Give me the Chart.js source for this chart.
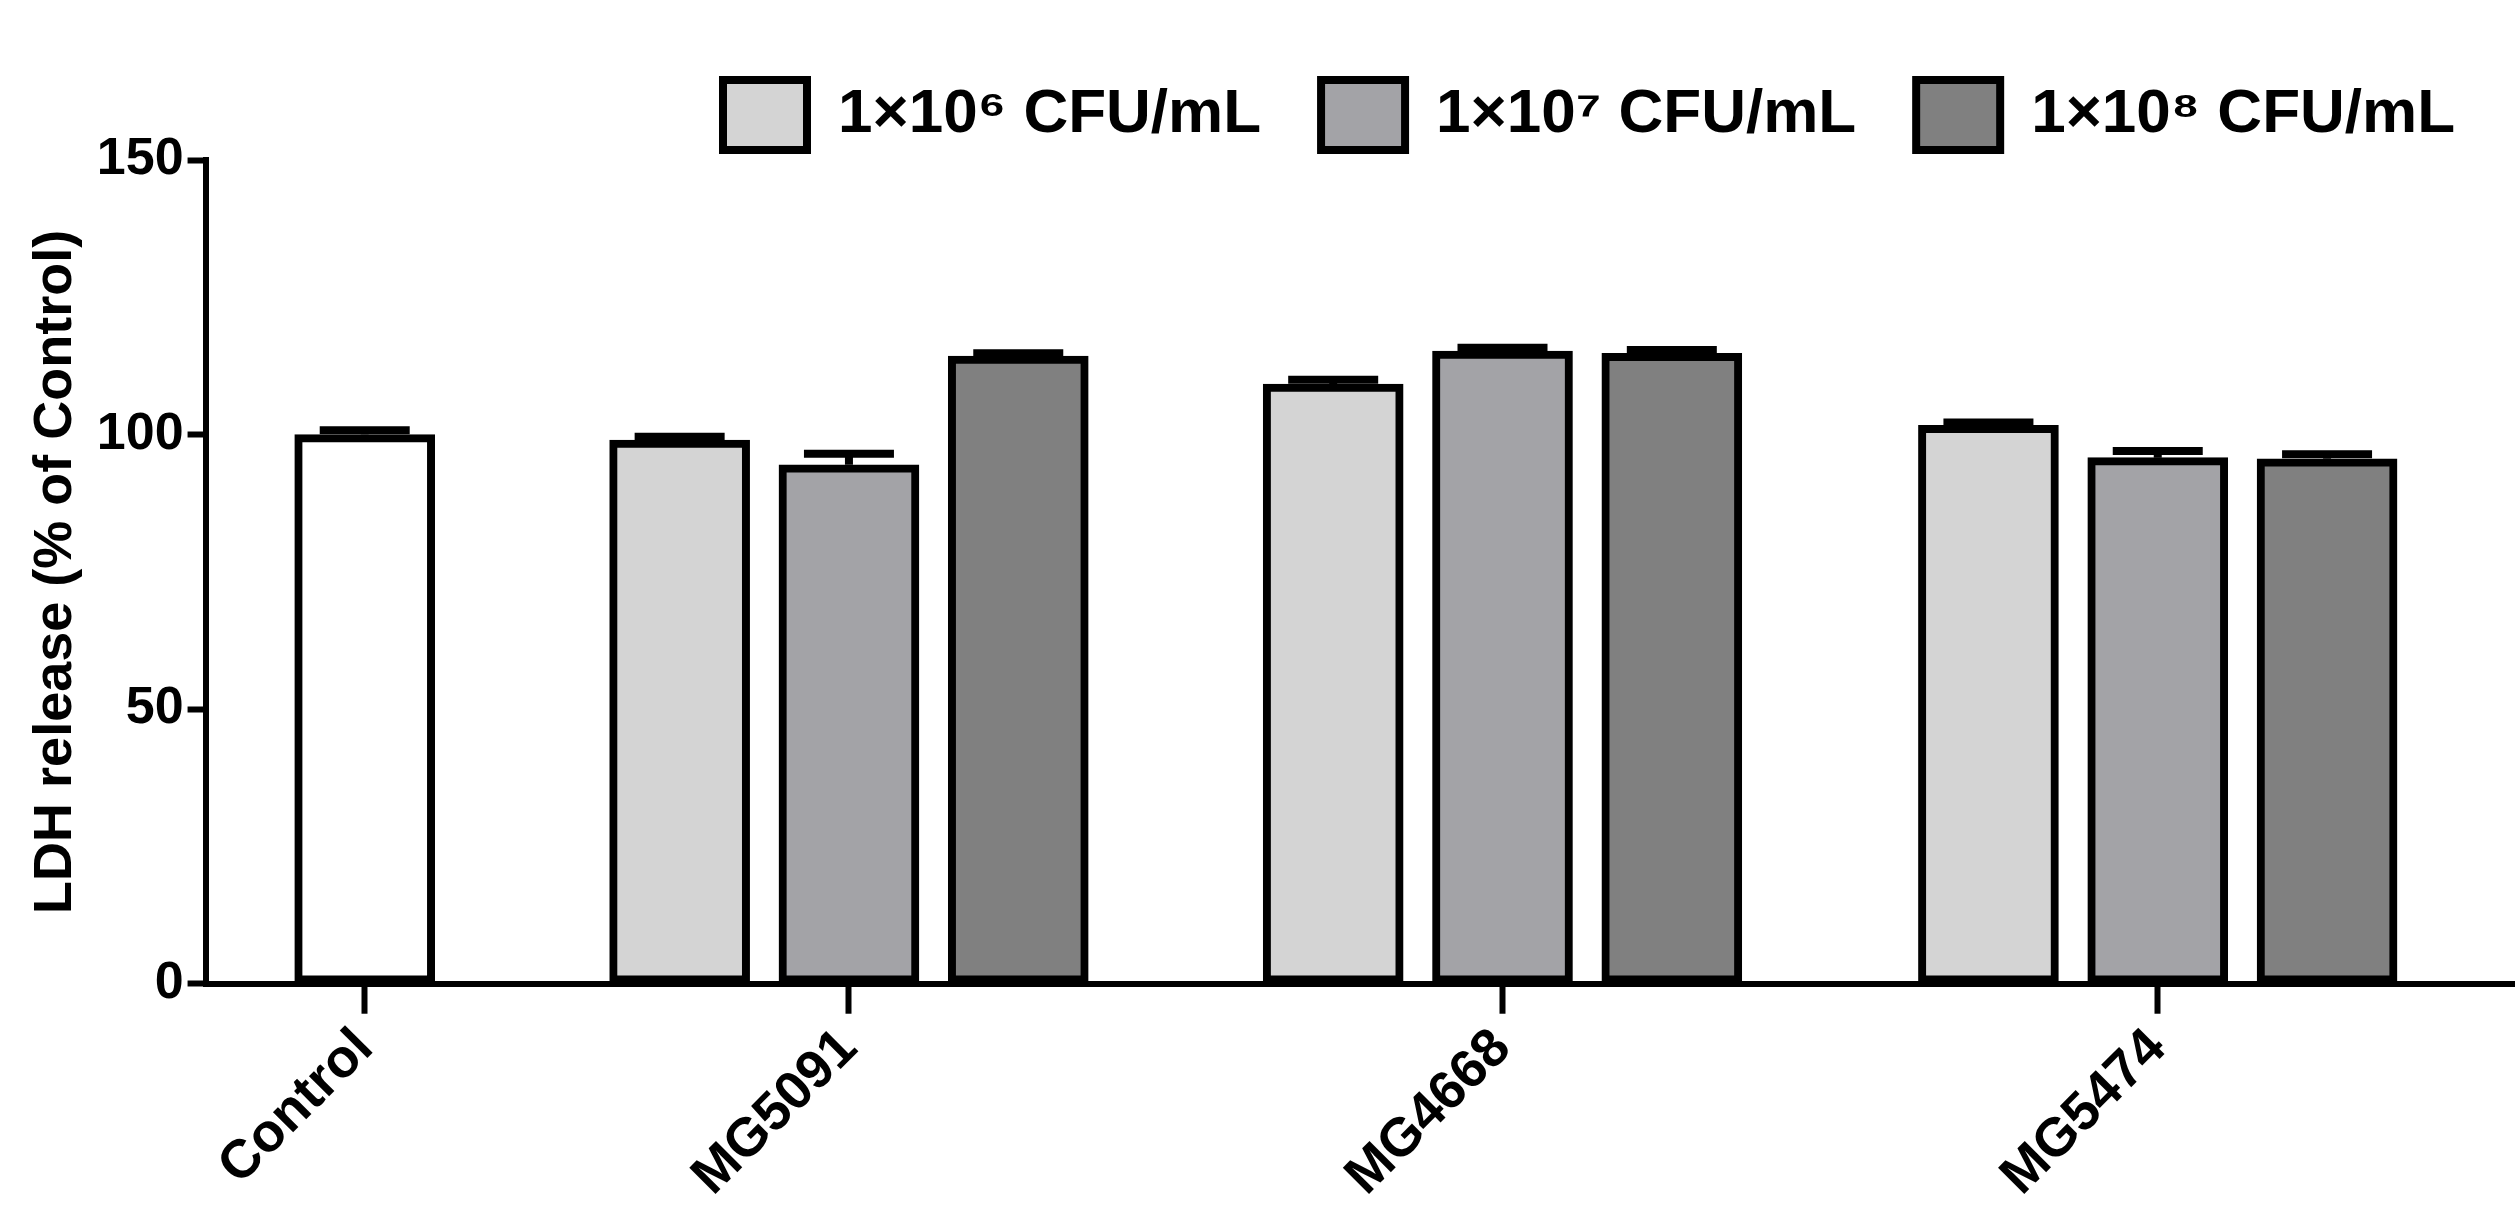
<!DOCTYPE html>
<html>
<head>
<meta charset="utf-8">
<script src="https://cdn.jsdelivr.net/npm/chart.js@4/dist/chart.umd.min.js"></script>
<style>
  html, body { margin: 0; padding: 0; background: #fff; }
  #wrap { width: 2515px; height: 1222px; }
</style>
</head>
<body>
<div id="wrap"><canvas id="ldhChart"></canvas></div>
<script>
// groups on the x axis and their centre positions (in bar-slot units)
const categories = ['Control', 'MG5091', 'MG4668', 'MG5474'];
const categoryPos = [0, 2.86, 6.72, 10.59];
const seriesLabels = ['1×10⁶ CFU/mL', '1×10⁷ CFU/mL', '1×10⁸ CFU/mL'];
const seriesColors = ['#d4d4d4', '#a3a3a7', '#808080'];

const controlValue = 100;
const controlErr = 0.8;
// values for MG5091, MG4668, MG5474
const conc6 = [99.0, 109.2, 101.7];
const conc7 = [94.5, 115.2, 95.8];
const conc8 = [114.3, 114.8, 95.6];
const err6 = [0.6, 0.8, 0.5];
const err7 = [2.0, 0.6, 1.2];
const err8 = [0.5, 0.6, 0.8];
const yTicks = [0, 50, 100, 150];

const offsets = [-1, 0, 1];
const seriesValues = [conc6, conc7, conc8];
const seriesErrs = [err6, err7, err8];

const datasets = [{
    label: 'Control',
    data: [{ x: categoryPos[0], y: controlValue, err: controlErr }],
    backgroundColor: '#ffffff'
}];
seriesValues.forEach(function (vals, s) {
    datasets.push({
        label: seriesLabels[s],
        data: vals.map(function (v, i) {
            return { x: categoryPos[i + 1] + offsets[s], y: v, err: seriesErrs[s][i] };
        }),
        backgroundColor: seriesColors[s]
    });
});
datasets.forEach(function (d) {
    d.borderColor = '#000';
    d.borderWidth = 8;
    d.borderSkipped = false;
    d.barThickness = 140;
    d.grouped = false;
});

// draws the upper half of each error bar with a cap
const errorBars = {
    id: 'errorBars',
    afterDatasetsDraw(chart) {
        const c = chart.ctx;
        const y = chart.scales.y;
        c.save();
        c.strokeStyle = '#000';
        c.lineWidth = 8;
        chart.data.datasets.forEach(function (ds, di) {
            chart.getDatasetMeta(di).data.forEach(function (bar, i) {
                const p = ds.data[i];
                const top = y.getPixelForValue(p.y + p.err);
                c.beginPath();
                c.moveTo(bar.x, bar.y);
                c.lineTo(bar.x, top);
                c.moveTo(bar.x - 45, top);
                c.lineTo(bar.x + 45, top);
                c.stroke();
            });
        });
        c.restore();
    }
};

new Chart(document.getElementById('ldhChart'), {
    type: 'bar',
    data: { datasets: datasets },
    plugins: [errorBars],
    options: {
        responsive: true,
        maintainAspectRatio: false,
        animation: false,
        layout: { padding: { top: 20, right: 0, left: 20, bottom: 10 } },
        plugins: {
            tooltip: { enabled: false },
            legend: {
                position: 'top',
                align: 'end',
                labels: {
                    filter: function (item) { return item.text !== 'Control'; },
                    boxWidth: 84,
                    boxHeight: 70,
                    padding: 60,
                    color: '#000',
                    font: { family: 'Liberation Sans', size: 62, weight: 'bold' }
                }
            }
        },
        scales: {
            x: {
                type: 'linear',
                offset: false,
                min: -0.94,
                max: 12.7,
                afterBuildTicks: function (axis) {
                    axis.ticks = categoryPos.map(function (v) { return { value: v }; });
                },
                grid: {
                    display: true,
                    offset: false,
                    drawOnChartArea: false,
                    drawTicks: true,
                    tickLength: 30,
                    tickWidth: 6,
                    color: '#000'
                },
                border: { color: '#000', width: 6 },
                ticks: {
                    color: '#000',
                    maxRotation: 45,
                    minRotation: 45,
                    font: { family: 'Liberation Sans', size: 54, weight: 'bold' },
                    callback: function (v) {
                        const i = categoryPos.indexOf(v);
                        return i >= 0 ? categories[i] : '';
                    }
                }
            },
            y: {
                min: 0,
                max: 150,
                afterBuildTicks: function (axis) {
                    axis.ticks = yTicks.map(function (v) { return { value: v }; });
                },
                grid: {
                    drawOnChartArea: false,
                    tickLength: 18,
                    tickWidth: 6,
                    color: '#000'
                },
                border: { color: '#000', width: 6 },
                ticks: {
                    color: '#000',
                    padding: 4,
                    font: { family: 'Liberation Sans', size: 52, weight: 'bold' }
                },
                title: {
                    display: true,
                    text: 'LDH release (% of Control)',
                    color: '#000',
                    font: { family: 'Liberation Sans', size: 54, weight: 'bold' }
                }
            }
        }
    }
});
</script>
</body>
</html>
